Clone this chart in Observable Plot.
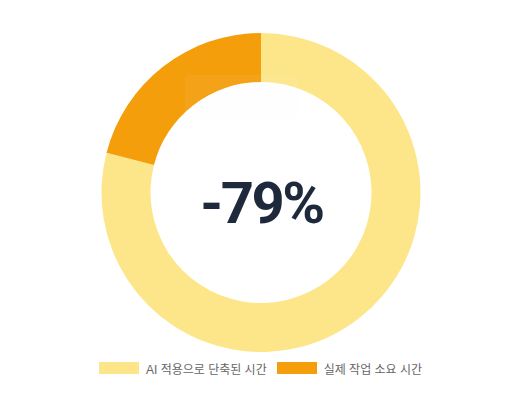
<!DOCTYPE html>
<html>
<head>
<meta charset="utf-8">
<script src="https://cdn.jsdelivr.net/npm/d3@7"></script>
<script src="https://cdn.jsdelivr.net/npm/@observablehq/plot@0.6"></script>
<style>
  html, body { margin: 0; padding: 0; background: #ffffff; }
  #wrap { width: 527px; }
  .legend { width: 521px; display: flex; justify-content: center; align-items: center; gap: 10px; height: 26px;
    font-family: "Liberation Sans", "Noto Sans CJK KR", sans-serif; font-size: 12px; color: #666666; }
  .item { display: flex; align-items: center; }
  .sw { width: 40px; height: 12px; margin-right: 7px; }
</style>
</head>
<body>
<div id="wrap"></div>
<script>
const categories = ["AI 적용으로 단축된 시간", "실제 작업 소요 시간"];
const values = [79, 21];
const colors = ["#FDE68A", "#F59E0B"];
const centerLabel = "-79%";

const data = categories.map((c, i) => ({label: c, value: values[i]}));
const color = Plot.scale({color: {domain: categories, range: colors}});

const donut = (index, scales, channels, dimensions) => {
  const {width, height, marginLeft, marginRight, marginTop, marginBottom} = dimensions;
  const cx = marginLeft + (width - marginLeft - marginRight) / 2;
  const cy = marginTop + (height - marginTop - marginBottom) / 2;
  const g = d3.create("svg:g").attr("transform", `translate(${cx},${cy})`);
  const arcs = d3.pie().sort(null).value(d => d.value)(data);
  const arc = d3.arc().innerRadius(110.5).outerRadius(159.5);
  g.selectAll("path").data(arcs).join("path")
    .attr("d", arc)
    .attr("fill", d => color.apply(d.data.label));
  g.append("rect")
    .attr("x", -76).attr("y", -117.5).attr("width", 113).attr("height", 46).attr("rx", 4)
    .attr("fill", "#f6f6f6").attr("opacity", 0.06);
  return g.node();
};

const chart = Plot.plot({
  width: 527,
  height: 355,
  marginTop: 30,
  marginBottom: 0,
  marginLeft: 0,
  marginRight: 5,
  style: {background: "#ffffff", letterSpacing: "-2.5px"},
  marks: [
    donut,
    Plot.text([centerLabel], {
      text: d => d,
      frameAnchor: "middle",
      dx: 0,
      dy: 11,
      fill: "#1E293B",
      fontSize: 58,
      fontWeight: 700,
      fontFamily: "Roboto, sans-serif"
    })
  ]
});

const wrap = document.getElementById("wrap");
wrap.appendChild(chart);

const legend = document.createElement("div");
legend.className = "legend";
categories.forEach((c, i) => {
  const item = document.createElement("div");
  item.className = "item";
  const sw = document.createElement("div");
  sw.className = "sw";
  sw.style.background = colors[i];
  const t = document.createElement("span");
  t.textContent = c;
  item.appendChild(sw);
  item.appendChild(t);
  legend.appendChild(item);
});
wrap.appendChild(legend);
</script>
</body>
</html>
